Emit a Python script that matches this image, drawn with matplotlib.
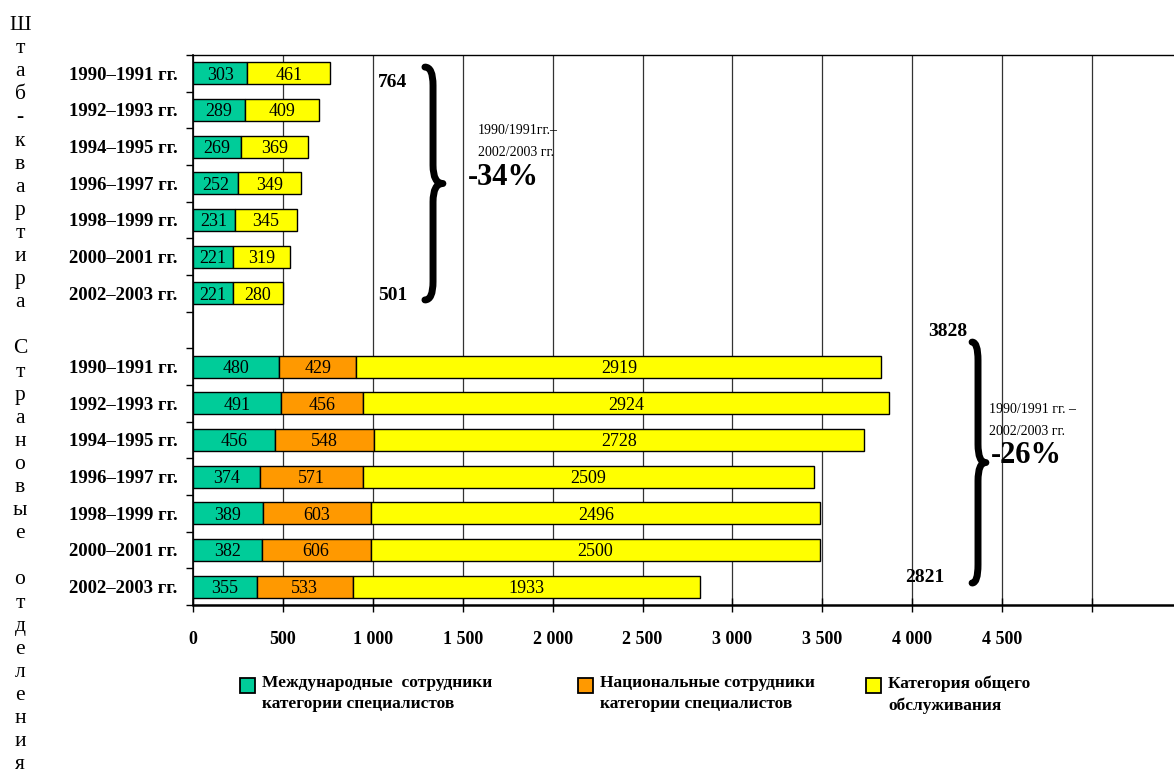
import numpy as np
import matplotlib
matplotlib.use("Agg")
import matplotlib.pyplot as plt
from matplotlib.path import Path
from matplotlib.patches import PathPatch, Rectangle

plt.rcParams["font.family"] = ["Liberation Serif", "DejaVu Serif"]

# data
years = ["1990–1991 гг.", "1992–1993 гг.", "1994–1995 гг.", "1996–1997 гг.",
         "1998–1999 гг.", "2000–2001 гг.", "2002–2003 гг."]
hq_intl = [303, 289, 269, 252, 231, 221, 221]
hq_general = [461, 409, 369, 349, 345, 319, 280]
co_intl = [480, 491, 456, 374, 389, 382, 355]
co_national = [429, 456, 548, 571, 603, 606, 533]
co_general = [2919, 2924, 2728, 2509, 2496, 2500, 1933]
series_names = ["Международные  сотрудники\nкатегории специалистов",
                "Национальные сотрудники\nкатегории специалистов",
                "Категория общего\nобслуживания"]
colors = ["#00CC99", "#FF9900", "#FFFF00"]
xticks = np.arange(0, 5001, 500)
side_title = "Штаб-квартира Страновые отделения"

W, H = 1174, 770
fig = plt.figure(figsize=(W / 100, H / 100), dpi=100)
ax = fig.add_axes([193 / W, 1 - 605 / H, 1 - 193 / W, 550 / H])

top_rows = np.arange(len(years))
bot_rows = np.arange(len(years)) + len(years) + 1
bh = 0.6
kw = dict(height=bh, edgecolor="black", linewidth=1, zorder=3)

b1 = ax.barh(top_rows, hq_intl, color=colors[0], **kw)
b2 = ax.barh(top_rows, hq_general, left=hq_intl, color=colors[2], **kw)
c1 = ax.barh(bot_rows, co_intl, color=colors[0], **kw)
c2 = ax.barh(bot_rows, co_national, left=co_intl, color=colors[1], **kw)
left3 = np.array(co_intl) + np.array(co_national)
c3 = ax.barh(bot_rows, co_general, left=left3, color=colors[2], **kw)
for bars in (b1, b2, c1, c2, c3):
    for t in ax.bar_label(bars, label_type="center", fontsize=13):
        t.set_va("center_baseline")

ax.set_xlim(0, (W - 193) / 0.1798)
ax.set_ylim(bot_rows[-1] + 0.5, -0.5)

# axes styling
ax.set_xticks(xticks)
ax.set_xticklabels([f"{v:,}".replace(",", " ") if v < 5000 else "" for v in xticks],
                   fontweight="bold", fontsize=13)
ax.tick_params(axis="x", direction="inout", length=10, width=1, pad=14)
ax.xaxis.grid(True, color="#333333", linewidth=0.9)
ax.set_axisbelow(True)

all_rows = np.concatenate([top_rows, bot_rows])
ax.set_yticks(np.arange(-0.5, bot_rows[-1] + 1, 1))
ax.set_yticklabels([])
ax.set_yticks(all_rows, minor=True)
ax.set_yticklabels(years + years, minor=True, fontweight="bold", fontsize=13.5)
ax.tick_params(axis="y", which="major", direction="out", length=5, width=1)
ax.tick_params(axis="y", which="minor", length=0, pad=11)

ax.spines["right"].set_visible(False)
ax.spines["left"].set_linewidth(1.2)
ax.spines["top"].set_linewidth(1.0)
ax.spines["bottom"].set_linewidth(1.8)


def brace(x0, x1, xm, ytop, ybot, d=0.5):
    ymid = (ytop + ybot) / 2
    verts = [(x0, ytop), (x1, ytop), (x1, ytop + d), (x1, ymid - d),
             (x1, ymid), (xm, ymid), (x1, ymid), (x1, ymid + d),
             (x1, ybot - d), (x1, ybot), (x0, ybot)]
    codes = [Path.MOVETO, Path.CURVE3, Path.CURVE3, Path.LINETO,
             Path.CURVE3, Path.CURVE3, Path.CURVE3, Path.CURVE3,
             Path.LINETO, Path.CURVE3, Path.CURVE3]
    ax.add_patch(PathPatch(Path(verts, codes), fill=False, lw=5,
                           capstyle="round", joinstyle="round", zorder=4))


hq_first = hq_intl[0] + hq_general[0]
hq_last = hq_intl[-1] + hq_general[-1]
co_first = co_intl[0] + co_national[0] + co_general[0]
co_last = co_intl[-1] + co_national[-1] + co_general[-1]

brace(1290, 1335, 1390, top_rows[0] - 0.17, top_rows[-1] + 0.18)
brace(4333, 4366, 4410, bot_rows[0] - 0.67, bot_rows[-1] - 0.1)

bold = dict(fontweight="bold", fontsize=14)
ax.text(1029, top_rows[0] + 0.24, f"{hq_first}", va="center", **bold)
ax.text(1029, top_rows[-1] + 0.07, f"{hq_last}", va="center", **bold)
ax.text(1585, 1.57, "1990/1991гг.–", fontsize=10, va="center")
ax.text(1585, 2.15, "2002/2003 гг.", fontsize=10, va="center")
ax.text(1530, 2.85, f"{(hq_last - hq_first) / hq_first:.0%}", fontsize=22,
        fontweight="bold", va="center")

ax.text(4088, bot_rows[0] - 0.97, f"{co_first}", va="center", **bold)
ax.text(3960, bot_rows[-1] - 0.24, f"{co_last}", va="center", **bold)
ax.text(4427, 9.18, "1990/1991 гг. –", fontsize=10, va="center")
ax.text(4427, 9.78, "2002/2003 гг.", fontsize=10, va="center")
ax.text(4438, 10.41, f"{(co_last - co_first) / co_first:.0%}", fontsize=22,
        fontweight="bold", va="center", zorder=5)

# vertical side title, one letter per line
for i, ch in enumerate(side_title):
    fig.text(20 / W, 1 - (30 + 23.1 * i) / H, ch, ha="center", va="baseline",
             fontsize=15.5)

# legend
leg_x = [240, 578, 866]
for name, col, lx in zip(series_names, colors, leg_x):
    fig.add_artist(Rectangle((lx / W, 1 - 693 / H), 15 / W, 15 / H,
                             transform=fig.transFigure, facecolor=col,
                             edgecolor="black", linewidth=1.3))
    fig.text((lx + 22) / W, 1 - 675 / H, name, ha="left", va="top",
             fontsize=12.5, fontweight="bold", linespacing=1.45)

fig.savefig("out.png", dpi=100)
